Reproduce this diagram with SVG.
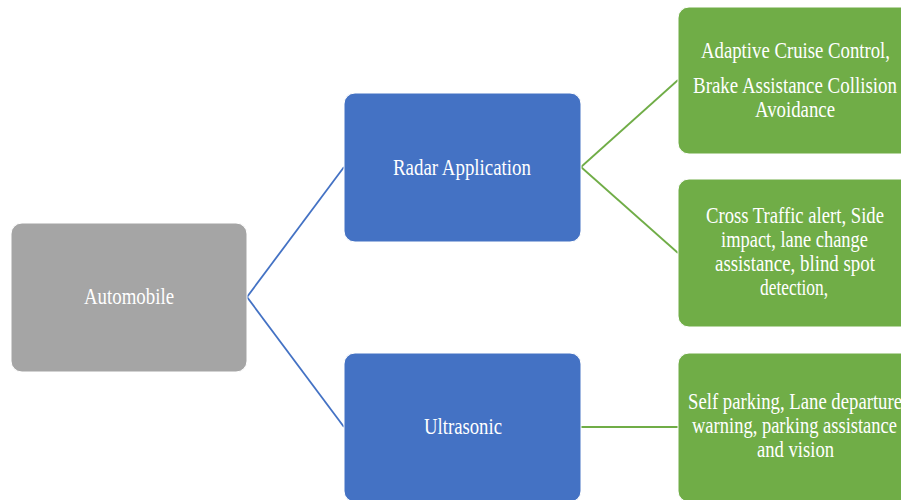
<svg xmlns="http://www.w3.org/2000/svg" width="901" height="500" viewBox="0 0 901 500">
<style>
.box{stroke:#fff;stroke-width:1}
.gray{fill:#A5A5A5}
.blue{fill:#4472C4}
.green{fill:#70AD47}
text{font-family:"Liberation Serif","Times New Roman",serif;font-size:24px;fill:#fff;text-anchor:middle}
.cb{stroke:#4472C4;stroke-width:1.8;fill:none}
.cg{stroke:#70AD47;stroke-width:1.8;fill:none}
</style>
<rect width="901" height="500" fill="#fff"/>
<g id="connectors">
<path class="cb" d="M247,297 L344,167"/>
<path class="cb" d="M247,297 L344,427"/>
<path class="cg" d="M581,167 L678,80"/>
<path class="cg" d="M581,167 L678,253"/>
<path class="cg" d="M581,427 L678,427"/>
</g>
<g id="automobile">
<rect class="box gray" x="11" y="223" width="236" height="149" rx="11"/>
<text x="129" y="304" textLength="90" lengthAdjust="spacingAndGlyphs">Automobile</text>
</g>
<g id="radar">
<rect class="box blue" x="344" y="93" width="237" height="149" rx="11"/>
<text x="462" y="175" textLength="138" lengthAdjust="spacingAndGlyphs">Radar Application</text>
</g>
<g id="ultrasonic">
<rect class="box blue" x="344" y="353" width="237" height="149" rx="11"/>
<text x="463" y="434" textLength="78" lengthAdjust="spacingAndGlyphs">Ultrasonic</text>
</g>
<g id="radar-app1">
<rect class="box green" x="678" y="7" width="236" height="147" rx="11"/>
<text x="795.5" y="58" textLength="189" lengthAdjust="spacingAndGlyphs">Adaptive  Cruise Control,</text>
<text x="795" y="93" textLength="204" lengthAdjust="spacingAndGlyphs">Brake Assistance Collision</text>
<text x="795" y="117" textLength="80" lengthAdjust="spacingAndGlyphs">Avoidance</text>
</g>
<g id="radar-app2">
<rect class="box green" x="678" y="179" width="236" height="148" rx="11"/>
<text x="795" y="223" textLength="178" lengthAdjust="spacingAndGlyphs">Cross Traffic alert, Side</text>
<text x="794.5" y="247" textLength="147" lengthAdjust="spacingAndGlyphs">impact, lane change</text>
<text x="795" y="271" textLength="160" lengthAdjust="spacingAndGlyphs">assistance, blind spot</text>
<text x="794" y="295" textLength="68" lengthAdjust="spacingAndGlyphs">detection,</text>
</g>
<g id="ultrasonic-app">
<rect class="box green" x="678" y="353" width="236" height="149" rx="11"/>
<text x="795" y="409" textLength="214" lengthAdjust="spacingAndGlyphs">Self parking, Lane departure</text>
<text x="794.5" y="433" textLength="205" lengthAdjust="spacingAndGlyphs">warning, parking assistance</text>
<text x="795.5" y="457" textLength="77" lengthAdjust="spacingAndGlyphs">and vision</text>
</g>
</svg>
